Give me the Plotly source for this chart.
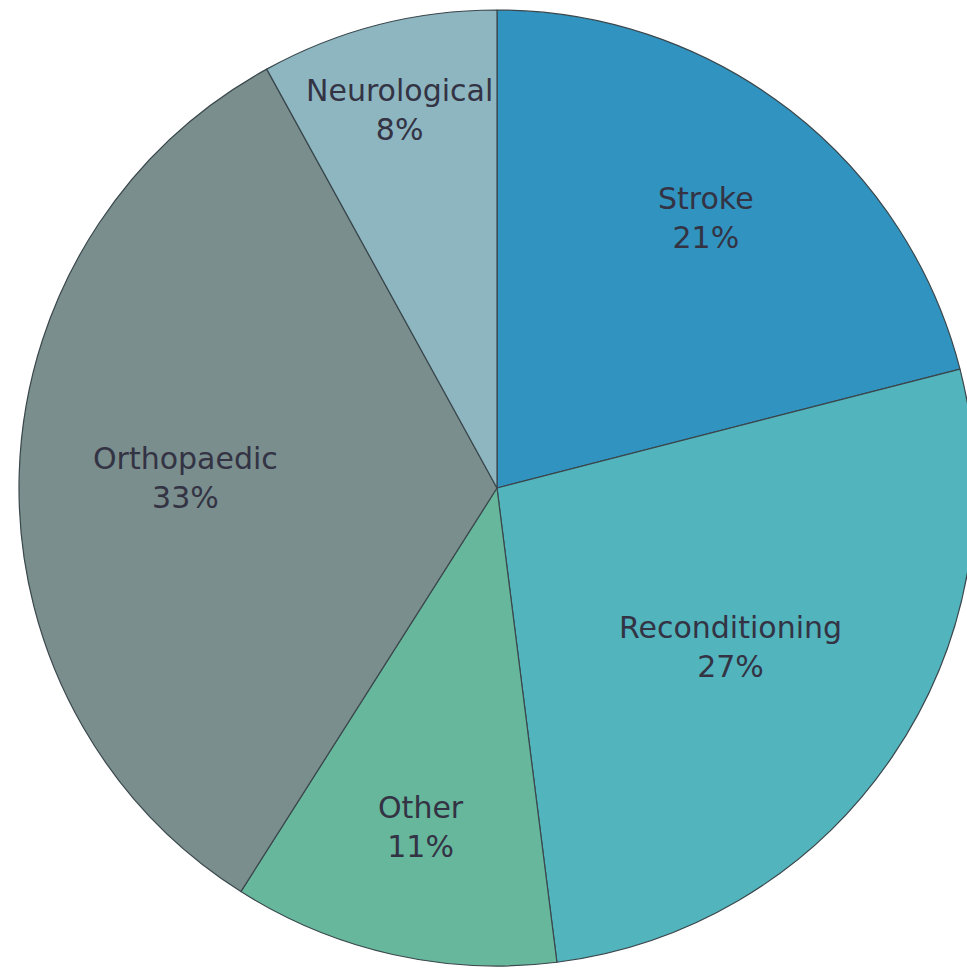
import math
import plotly.graph_objects as go

categories = ["Stroke", "Reconditioning", "Other", "Orthopaedic", "Neurological"]
values = [21, 27, 11, 33, 8]
colors = ["#3193bf", "#52b4bd", "#67b79c", "#798e8d", "#8db6c1"]
# radial placement of each label as a fraction of the radius (style)
label_radius = [0.715, 0.59, 0.726, 0.653, 0.816]

fig = go.Figure(go.Pie(
    labels=categories,
    values=values,
    sort=False,
    direction="clockwise",
    rotation=0,
    marker=dict(colors=colors, line=dict(color="#3a474c", width=1.2)),
    textinfo="none",
    hoverinfo="label+percent",
    showlegend=False,
    domain=dict(x=[0, 1], y=[0, 1]),
))

total = sum(values)
annotations = []
cum = 0
for name, v, rf in zip(categories, values, label_radius):
    mid = (cum + v / 2) / total * 2 * math.pi
    cum += v
    x = 0.5 + 0.5 * rf * math.sin(mid)
    y = 0.5 + 0.5 * rf * math.cos(mid)
    annotations.append(dict(
        x=x, y=y, xref="paper", yref="paper",
        text=f"{name}<br>{round(v / total * 100)}%",
        showarrow=False, xanchor="center", yanchor="middle", align="center",
        font=dict(family="DejaVu Sans, Verdana, sans-serif", size=30, color="#333344"),
    ))

fig.update_layout(
    width=980,
    height=973,
    margin=dict(l=19, r=5, t=10, b=7),
    paper_bgcolor="white",
    plot_bgcolor="white",
    annotations=annotations,
)

fig.write_html("out.html", post_script="document.body.style.overflow='hidden';document.body.style.margin='0';")
